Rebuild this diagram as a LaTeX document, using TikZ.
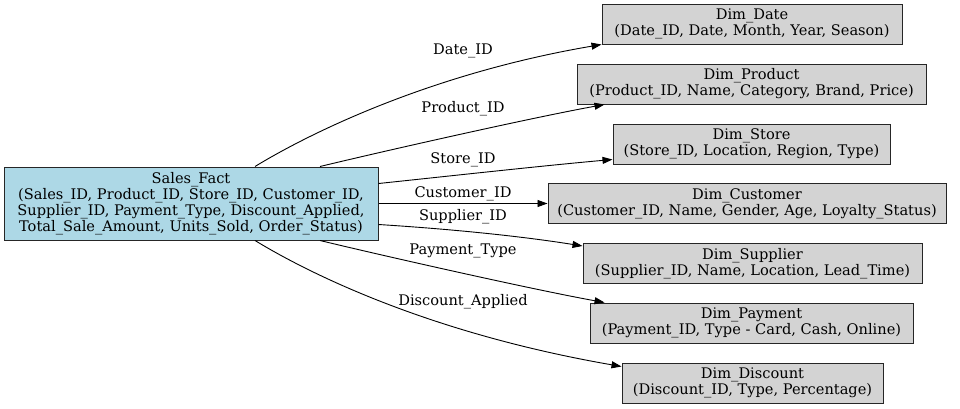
\documentclass[tikz,border=0pt]{standalone}
\usepackage{fontspec}
\setmainfont{DejaVu Serif}
\usetikzlibrary{arrows.meta}
\definecolor{factblue}{HTML}{ADD8E6}
\definecolor{dimgrey}{HTML}{D3D3D3}
\tikzset{
 box/.style={draw=black!85, line width=1pt, inner sep=0pt, align=center, font=\fontsize{14.6}{16}\selectfont},
 fact/.style={box, fill=factblue},
 dimbox/.style={box, fill=dimgrey, minimum height=40pt},
 rel/.style={draw, line width=0.9pt, -{Triangle[length=10pt,width=7pt]}},
 lbl/.style={font=\fontsize{14.6}{16}\selectfont, inner sep=0pt}
}
\begin{document}
\begin{tikzpicture}[x=1pt,y=-1pt]
\useasboundingbox (0,0) rectangle (960,408);
\node[fact, minimum width=374pt, minimum height=73pt] (sf) at (191,203.5)
 {Sales\_Fact\\(Sales\_ID, Product\_ID, Store\_ID, Customer\_ID,\\Supplier\_ID, Payment\_Type, Discount\_Applied,\\Total\_Sale\_Amount, Units\_Sold, Order\_Status)};
\node[dimbox, minimum width=300pt] (dd) at (752,24) {Dim\_Date\\(Date\_ID, Date, Month, Year, Season)};
\node[dimbox, minimum width=349pt] (dp) at (751.5,84) {Dim\_Product\\(Product\_ID, Name, Category, Brand, Price)};
\node[dimbox, minimum width=277pt] (ds) at (751.5,144) {Dim\_Store\\(Store\_ID, Location, Region, Type)};
\node[dimbox, minimum width=398pt] (dc) at (747,203.5) {Dim\_Customer\\(Customer\_ID, Name, Gender, Age, Loyalty\_Status)};
\node[dimbox, minimum width=339pt] (dsu) at (752.5,263.5) {Dim\_Supplier\\(Supplier\_ID, Name, Location, Lead\_Time)};
\node[dimbox, minimum width=323pt] (dpay) at (751.5,323) {Dim\_Payment\\(Payment\_ID, Type - Card, Cash, Online)};
\node[dimbox, minimum width=261pt] (ddi) at (752.5,383) {Dim\_Discount\\(Discount\_ID, Type, Percentage)};

\node[lbl] (l1) at (463,51) {Date\_ID};
\node[lbl] (l2) at (463,109) {Product\_ID};
\node[lbl] (l3) at (463,160) {Store\_ID};
\node[lbl] (l4) at (463,194) {Customer\_ID};
\node[lbl] (l5) at (463,217) {Supplier\_ID};
\node[lbl] (l6) at (463,251) {Payment\_Type};
\node[lbl] (l7) at (463,302) {Discount\_Applied};

\draw[rel] ([xshift=64pt]sf.north) .. controls (320,127) and (440,72) .. (dd.south west);
\draw[rel] ([xshift=129pt]sf.north) .. controls (380,152) and (530,118) .. ([xshift=28pt]dp.south west);
\draw[rel] ([yshift=-17pt]sf.north east) .. controls (450,176) and (540,166) .. ([yshift=5pt]ds.south west);
\draw[rel] (sf.east) -- (dc.west);
\draw[rel] ([yshift=16pt]sf.south east) .. controls (450,229) and (520,236) .. ([yshift=-3pt]dsu.north west);
\draw[rel] ([xshift=129pt]sf.south) .. controls (380,255) and (530,289) .. ([xshift=15pt]dpay.north west);
\draw[rel] ([xshift=64pt]sf.south) .. controls (320,280) and (440,335) .. ([yshift=-4pt]ddi.north west);
\end{tikzpicture}
\end{document}
